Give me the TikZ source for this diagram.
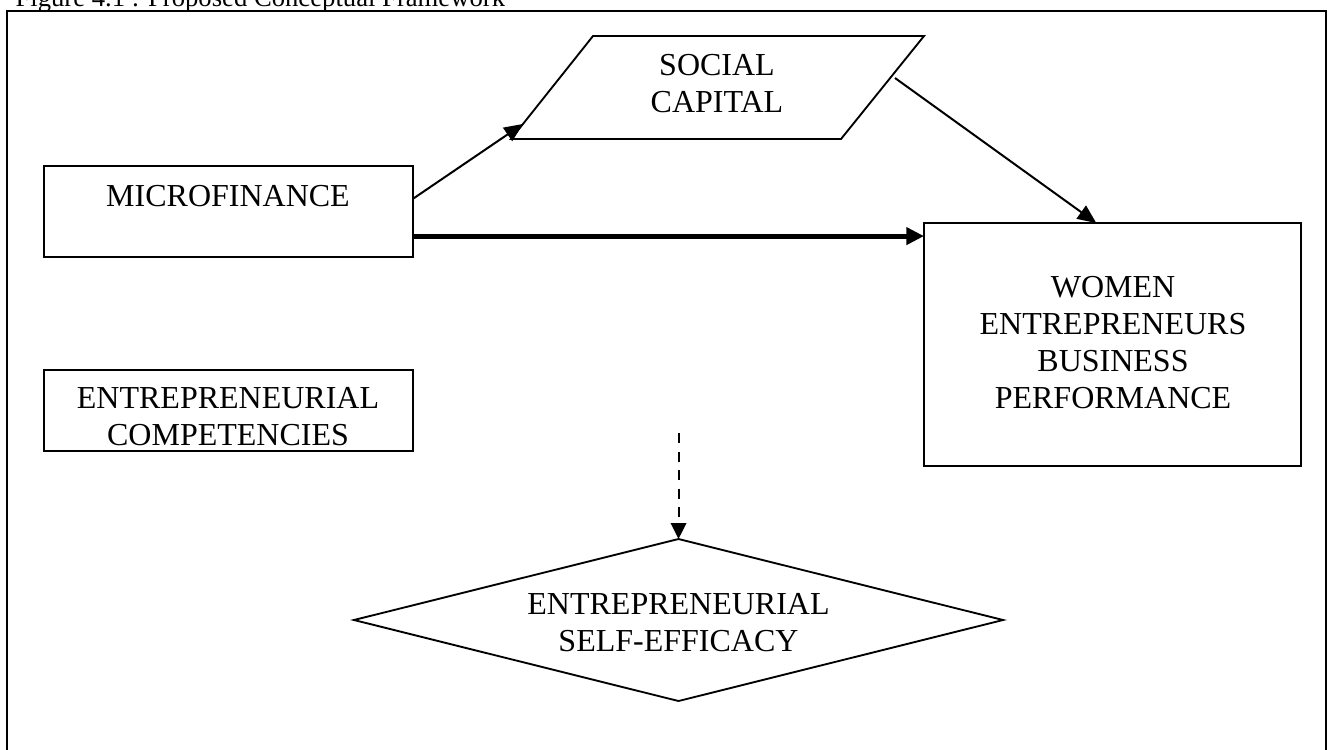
\documentclass[tikz,border=0pt]{standalone}
\usepackage{fontspec}
\setmainfont{Liberation Serif}
\usetikzlibrary{arrows.meta,shapes.geometric,fit,calc}

\begin{document}
\begin{tikzpicture}[x=0.375pt,y=-0.375pt,
  font=\fontsize{12}{13.8}\selectfont,
  rectbox/.style={draw, line width=0.7pt, inner sep=0pt, outer sep=0pt},
  txt/.style={inner sep=0pt, align=center, anchor=base},
  thinarrow/.style={line width=0.75pt, -{Triangle[length=7pt,width=6pt]}},
  thickarrow/.style={line width=1.9pt, -{Triangle[length=6.6pt,width=6.3pt]}},
  dasharrow/.style={line width=0.75pt, dash pattern=on 3.75pt off 3.2pt,
    -{Triangle[length=6pt,width=5.8pt]}}
]
\clip (0,0) rectangle (1332,749);
\fill[white] (0,0) rectangle (1332,749);

% caption and outer frame
\node[txt, anchor=base west, font=\fontsize{10}{12}\selectfont] (title) at (15,6.5)
  {Figure 4.1 : Proposed Conceptual Framework};
\node[rectbox, line width=0.75pt, fit={(7,11) (1326,820)}] (frame) {};

% boxes (multi-line labels are placed by the baseline of their last line)
\node[rectbox, fit={(44,166) (413,257)}] (mf) {};
\node[txt] (mftext) at (228,206) {MICROFINANCE};

\node[rectbox, fit={(44,370) (413,451)}] (ec) {};
\node[txt] (ectext) at (228,445) {ENTREPRENEURIAL\\COMPETENCIES};

\node[rectbox, fit={(924,223) (1301,466)}] (webp) {};
\node[txt] (webptext) at (1113,408) {WOMEN\\ENTREPRENEURS\\BUSINESS\\PERFORMANCE};

% social capital parallelogram
\coordinate (sc-bl) at (511,139);
\coordinate (sc-tl) at (593,36);
\coordinate (sc-tr) at (924,36);
\coordinate (sc-br) at (841,139);
\draw[line width=0.7pt] (sc-bl) -- (sc-tl) -- (sc-tr) -- (sc-br) -- cycle;
\node[txt] (sctext) at (717,112) {SOCIAL\\CAPITAL};

% self-efficacy diamond
\node[diamond, draw, line width=0.7pt, inner sep=0pt, outer sep=0pt,
  minimum width=243.4pt, minimum height=60.75pt] (ese) at (678.5,620) {};
\node[txt] (esetext) at (678.5,651) {ENTREPRENEURIAL\\SELF-EFFICACY};

% connectors
\coordinate (mf-out) at ($(mf.north east)!0.36!(mf.south east)$);
\coordinate (sc-in) at ($(sc-bl)!0.146!(sc-tl)$);
\coordinate (sc-out) at (895,78);
\coordinate (webp-in) at ($(webp.north west)!0.457!(webp.north east)$);
\coordinate (mf-main) at ($(mf.north east)!0.77!(mf.south east)$);
\coordinate (dash-start) at (678.5,433);

\draw[thinarrow] (mf-out) -- (sc-in);
\draw[thinarrow] (sc-out) -- (webp-in);
\draw[thickarrow] (mf-main) -- (mf-main -| webp.west);
\draw[dasharrow] (dash-start) -- (ese.north);
\end{tikzpicture}
\end{document}
